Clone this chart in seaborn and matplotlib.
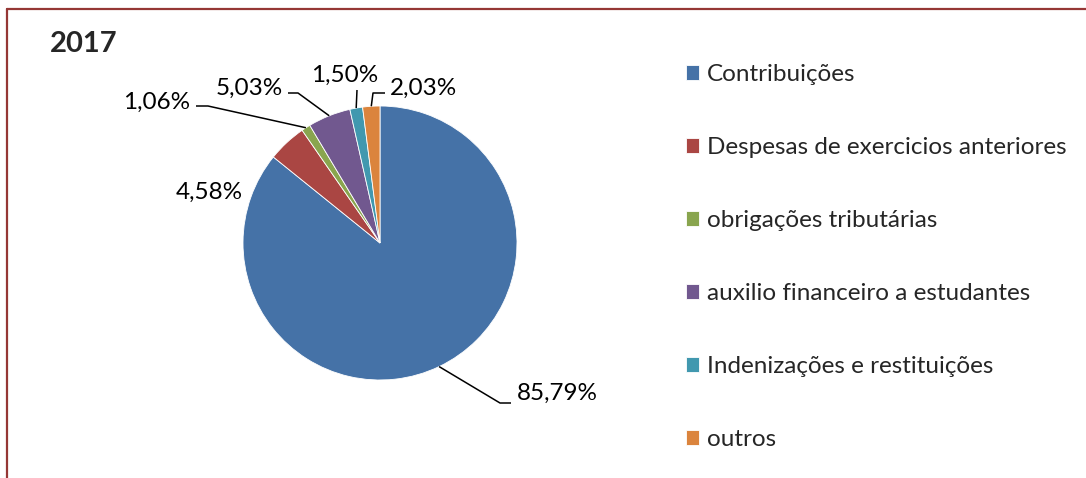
import matplotlib
matplotlib.use("Agg")
import matplotlib.pyplot as plt
import numpy as np
import seaborn as sns

categories = ["Contribuições", "Despesas de exercicios anteriores", "obrigações tributárias",
              "auxilio financeiro a estudantes", "Indenizações e restituições", "outros"]
values = [85.79, 4.58, 1.06, 5.03, 1.50, 2.03]
value_labels = ["85,79%", "4,58%", "1,06%", "5,03%", "1,50%", "2,03%"]
colors = ["#4572A7", "#AA4643", "#89A54E", "#71588F", "#4198AF", "#DB843D"]

sns.set_theme(style="white")
plt.rcParams['font.family'] = ['Lato', 'DejaVu Sans']

W, H = 1086, 478
fig = plt.figure(figsize=(W / 100, H / 100), dpi=100)
ax = fig.add_axes([0, 0, 1, 1])

cx, cy, r = 380, H - 243, 137
wedges, _ = ax.pie(values, center=(cx, cy), radius=r, startangle=90, counterclock=False,
                   colors=colors, wedgeprops=dict(edgecolor="white", linewidth=0.6))
ax.set_xlim(0, W)
ax.set_ylim(0, H)
ax.set_aspect("equal")
ax.axis("off")

# label layout (image pixel coords): text pos, alignment, elbow, tail
label_layout = [
    ((517, 393), "left", (500, 403), (511, 403)),
    ((243, 192), "right", None, None),
    ((190, 102), "right", (208, 106), (196, 106)),
    ((283, 88), "right", (298, 93), (288, 93)),
    ((345, 75), "center", (357, 90), (357, 90)),
    ((390, 88), "left", (373, 93), (385, 93)),
]

for w, lab, (tpos, ha, elbow, tail) in zip(wedges, value_labels, label_layout):
    ang = np.deg2rad((w.theta1 + w.theta2) / 2)
    ax.text(tpos[0], H - tpos[1], lab, ha=ha, va="center", fontsize=17.5, color="black")
    if elbow is not None:
        px, py = cx + r * np.cos(ang), cy + r * np.sin(ang)
        ax.plot([px, elbow[0], tail[0]], [py, H - elbow[1], H - tail[1]],
                color="black", lw=1.1, solid_capstyle="butt")

ax.text(50, H - 44, "2017", ha="left", va="center", fontsize=21, fontweight="bold")

ax.legend(wedges, categories, loc="upper left", bbox_to_anchor=(686 / W, 1 - 64 / H),
          frameon=False, fontsize=17.5, labelspacing=2.14, handlelength=0.55, handleheight=0.55,
          handletextpad=0.3, borderpad=0, borderaxespad=0)

# chart frame (top and left edges visible)
ax.plot([7, W], [H - 9, H - 9], color="#953735", lw=1.6, clip_on=False)
ax.plot([7, 7], [H - 9, 0], color="#953735", lw=1.6, clip_on=False)

fig.savefig("out.png", dpi=100)
